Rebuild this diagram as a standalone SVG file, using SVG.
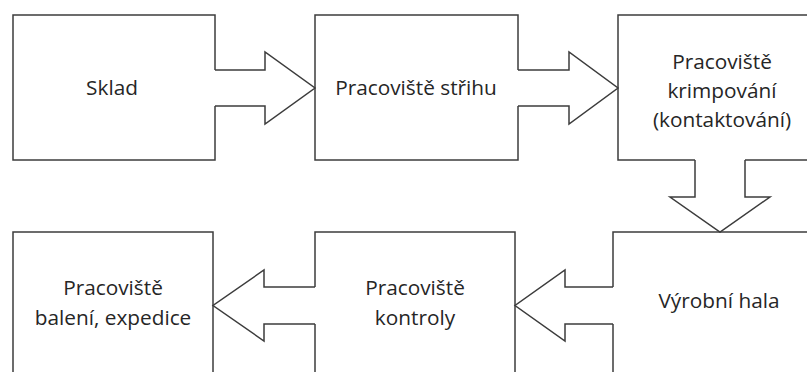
<svg xmlns="http://www.w3.org/2000/svg" width="807" height="372" viewBox="0 0 807 372">
<style>
.box{fill:#fff;stroke:#3c3c3c;stroke-width:1.5}
.af{fill:#fff;stroke:none}
.al{fill:none;stroke:#3c3c3c;stroke-width:1.5;stroke-linejoin:miter}
text{font-family:"Open Sans","Liberation Sans",sans-serif;font-size:20.8px;fill:#262626;text-anchor:middle}
</style>
<rect width="807" height="372" fill="#fff"/>
<g id="sklad"><rect class="box" x="13" y="15" width="202" height="145"/><text x="112" y="95">Sklad</text></g>
<g id="strih"><rect class="box" x="315" y="15" width="203" height="145"/><text x="416" y="95">Pracoviště střihu</text></g>
<g id="krimpovani"><rect class="box" x="618" y="15" width="220" height="145"/><text x="722" y="69">Pracoviště</text><text x="722" y="98">krimpování</text><text x="722" y="127">(kontaktování)</text></g>
<g id="hala"><rect class="box" x="613" y="232" width="220" height="160"/><text x="719" y="308">Výrobní hala</text></g>
<g id="kontroly"><rect class="box" x="315" y="232" width="200" height="160"/><text x="415" y="295">Pracoviště</text><text x="415" y="325">kontroly</text></g>
<g id="baleni"><rect class="box" x="13" y="232" width="200" height="160"/><text x="113" y="295">Pracoviště</text><text x="113" y="325">balení, expedice</text></g>
<g id="connectors">
<path class="af" d="M213,70 H265 V52 L315,88 L265,124 V106 H213 Z"/>
<path class="al" d="M215,70 H265 V52 L315,88 L265,124 V106 H215"/>
<path class="af" d="M516,70 H569 V52 L618,88 L569,124 V106 H516 Z"/>
<path class="al" d="M518,70 H569 V52 L618,88 L569,124 V106 H518"/>
<path class="af" d="M695,158 V197 H670 L720,232 L770,197 H745 V158 Z"/>
<path class="al" d="M695,160 V197 H670 L720,232 L770,197 H745 V160"/>
<path class="af" d="M615,287 H565 V270 L515,305.5 L565,341 V324 H615 Z"/>
<path class="al" d="M613,287 H565 V270 L515,305.5 L565,341 V324 H613"/>
<path class="af" d="M317,287 H264 V270 L213,305.5 L264,341 V324 H317 Z"/>
<path class="al" d="M315,287 H264 V270 L213,305.5 L264,341 V324 H315"/>
</g>
</svg>
